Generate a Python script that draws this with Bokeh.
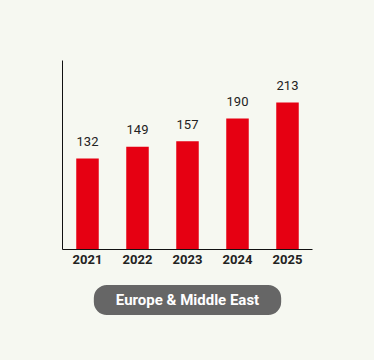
from bokeh.plotting import figure
from bokeh.models import ColumnDataSource, Title, LabelSet, Range1d, FixedTicker
from bokeh.core.properties import value
from bokeh.embed import file_html
from bokeh.resources import INLINE

years = ["2021", "2022", "2023", "2024", "2025"]
values = [132, 149, 157, 190, 213]
labels = [str(v) for v in values]
region = "Europe & Middle East"

BG = "#f6f8f1"
RED = "#e60012"

src = ColumnDataSource(dict(x=years, top=values, lab=labels))

p = figure(x_range=years, y_range=Range1d(0, 274), width=374, height=360,
           output_backend="svg", toolbar_location=None,
           min_border_left=62, min_border_right=62, min_border_top=60, min_border_bottom=111,
           background_fill_color=BG, border_fill_color=BG, outline_line_color=None)

p.vbar(x="x", top="top", width=0.45, source=src, color=RED, line_color=None)

p.add_layout(LabelSet(x="x", y="top", text="lab", source=src, text_align="center",
                      text_baseline="middle", y_offset=17, text_font=value("Roboto"),
                      text_font_size=value("13px"), text_color="#222222"))

p.xgrid.visible = False
p.ygrid.visible = False
p.xaxis.axis_line_color = "#111111"
p.xaxis.axis_line_width = 1
p.xaxis.major_tick_line_color = None
p.xaxis.minor_tick_line_color = None
p.xaxis.major_tick_out = 0
p.xaxis.major_tick_in = 0
p.xaxis.major_label_text_font = "Roboto"
p.xaxis.major_label_text_font_size = "13px"
p.xaxis.major_label_text_font_style = "bold"
p.xaxis.major_label_text_color = "#222222"
p.xaxis.major_label_standoff = 5
p.yaxis.axis_line_color = "#111111"
p.yaxis.ticker = FixedTicker(ticks=[])
p.yaxis.major_tick_line_color = None
p.yaxis.minor_tick_line_color = None
p.yaxis.major_label_standoff = 0

p.add_layout(Title(text=region, align="center", standoff=33, text_font="Roboto",
                   text_font_size="15px", text_font_style="bold", text_color="white",
                   background_fill_color="#666666", padding=(22, 6), border_radius=13),
             "below")

html = file_html(p, INLINE)
html = html.replace("<body>", '<body style="background-color:%s;">' % BG)
open("out.html", "w").write(html)
